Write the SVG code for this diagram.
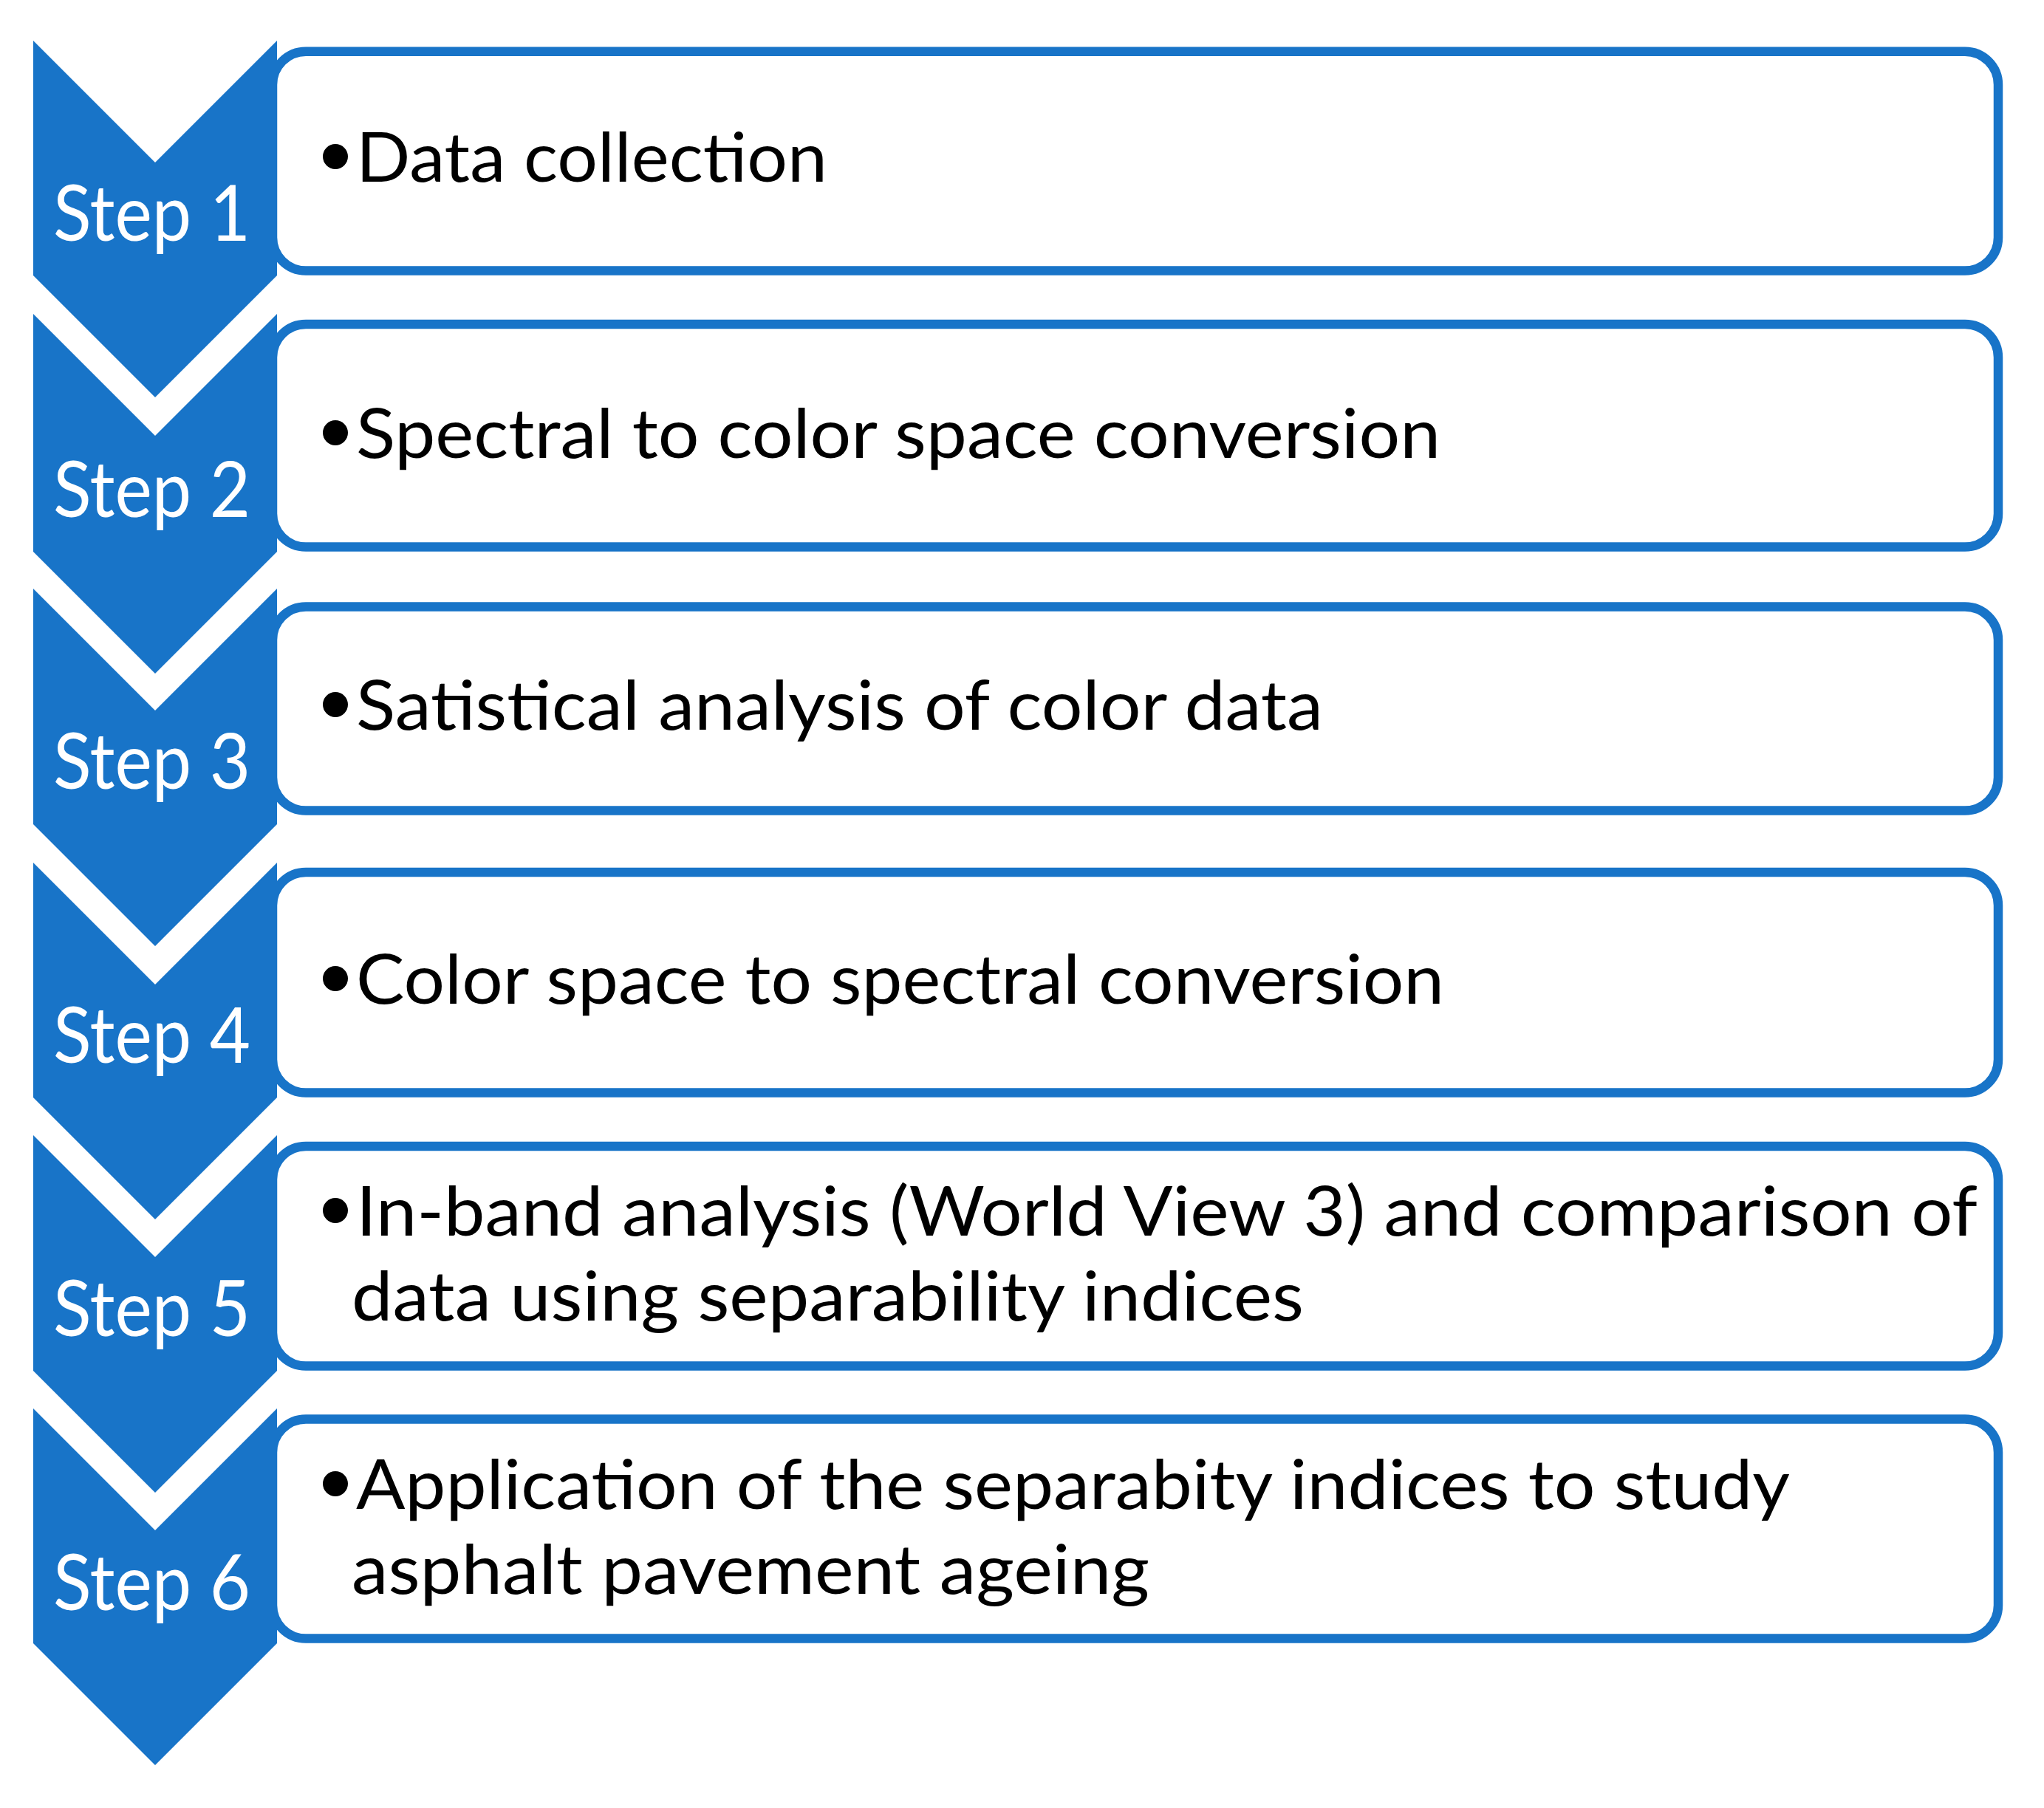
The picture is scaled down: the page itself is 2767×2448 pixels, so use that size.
<svg xmlns="http://www.w3.org/2000/svg" width="2767" height="2448" viewBox="0 0 2767 2448">
<style>
.chev{fill:#1874C8;stroke:none}
.box{fill:#ffffff;stroke:#1874C8;stroke-width:12.5}
.lbl{font-family:Lato,"Open Sans","Liberation Sans",sans-serif;font-size:104px;fill:#ffffff}
.txt{font-family:Lato,"Open Sans","Liberation Sans",sans-serif;font-size:94px;fill:#000000}
.bul{fill:#000000}
</style>
<rect x="0" y="0" width="2767" height="2448" fill="#ffffff"/>
<g id="step1">
<rect class="box" x="369" y="69.7" width="2336" height="296.8" rx="45" ry="45"/>
<path class="chev" d="M45,55 L210,220 L375,55 L375,373 L210,538 L45,373 Z"/>
<text class="lbl" x="72" y="326" textLength="267" lengthAdjust="spacingAndGlyphs">Step 1</text>
<circle class="bul" cx="454" cy="212" r="17"/>
<text class="txt" x="482" y="246" textLength="638" lengthAdjust="spacingAndGlyphs">Data collection</text>
</g>
<g id="step2">
<rect class="box" x="369" y="439" width="2336" height="301.5" rx="45" ry="45"/>
<path class="chev" d="M45,425 L210,590 L375,425 L375,747 L210,912 L45,747 Z"/>
<text class="lbl" x="72" y="700" textLength="267" lengthAdjust="spacingAndGlyphs">Step 2</text>
<circle class="bul" cx="454" cy="586" r="17"/>
<text class="txt" x="482" y="620" textLength="1468" lengthAdjust="spacingAndGlyphs">Spectral to color space conversion</text>
</g>
<g id="step3">
<rect class="box" x="369" y="821.5" width="2336" height="276" rx="45" ry="45"/>
<path class="chev" d="M45,797 L210,962 L375,797 L375,1116 L210,1281 L45,1116 Z"/>
<text class="lbl" x="72" y="1068" textLength="267" lengthAdjust="spacingAndGlyphs">Step 3</text>
<circle class="bul" cx="454" cy="954" r="17"/>
<text class="txt" x="482" y="988" textLength="1309" lengthAdjust="spacingAndGlyphs">Satistical analysis of color data</text>
</g>
<g id="step4">
<rect class="box" x="369" y="1181" width="2336" height="298.5" rx="45" ry="45"/>
<path class="chev" d="M45,1168 L210,1333 L375,1168 L375,1486 L210,1651 L45,1486 Z"/>
<text class="lbl" x="72" y="1439" textLength="267" lengthAdjust="spacingAndGlyphs">Step 4</text>
<circle class="bul" cx="454" cy="1325" r="17"/>
<text class="txt" x="482" y="1359" textLength="1473" lengthAdjust="spacingAndGlyphs">Color space to spectral conversion</text>
</g>
<g id="step5">
<rect class="box" x="369" y="1552" width="2336" height="297.5" rx="45" ry="45"/>
<path class="chev" d="M45,1537 L210,1702 L375,1537 L375,1856 L210,2021 L45,1856 Z"/>
<text class="lbl" x="72" y="1809" textLength="267" lengthAdjust="spacingAndGlyphs">Step 5</text>
<circle class="bul" cx="454" cy="1639" r="17"/>
<text class="txt" x="482" y="1673" textLength="2195" lengthAdjust="spacingAndGlyphs">In-band analysis (World View 3) and comparison of</text>
<text class="txt" x="476" y="1788" textLength="1289" lengthAdjust="spacingAndGlyphs">data using separability indices</text>
</g>
<g id="step6">
<rect class="box" x="369" y="1921.5" width="2336" height="297" rx="45" ry="45"/>
<path class="chev" d="M45,1907 L210,2072 L375,1907 L375,2225 L210,2390 L45,2225 Z"/>
<text class="lbl" x="72" y="2180" textLength="267" lengthAdjust="spacingAndGlyphs">Step 6</text>
<circle class="bul" cx="454" cy="2009" r="17"/>
<text class="txt" x="482" y="2043" textLength="1941" lengthAdjust="spacingAndGlyphs">Application of the separabity indices to study</text>
<text class="txt" x="476" y="2158" textLength="1080" lengthAdjust="spacingAndGlyphs">asphalt pavement ageing</text>
</g>
<g id="connectors"/>
</svg>
